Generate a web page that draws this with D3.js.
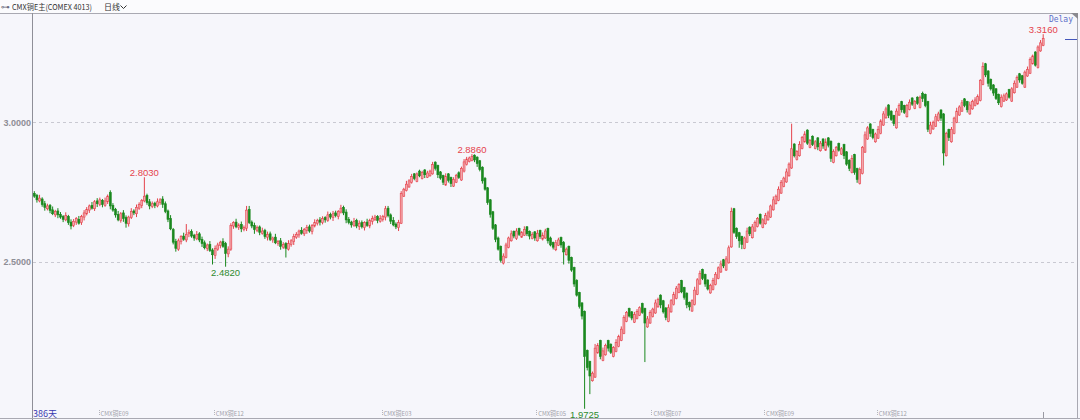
<!DOCTYPE html>
<html><head><meta charset="utf-8">
<script src="https://cdn.jsdelivr.net/npm/d3@7"></script>
<style>html,body{margin:0;padding:0;background:#f6f6fb;overflow:hidden}svg{display:block}</style>
</head><body><svg id="c" width="1080" height="420"></svg>
<script>
// ---- data (COMEX copper continuous, daily OHLC) ----
const opens=[2.745,2.738,2.718,2.725,2.708,2.690,2.702,2.686,2.668,2.682,
2.670,2.662,2.650,2.662,2.642,2.630,2.642,2.652,2.640,2.660,
2.672,2.685,2.702,2.690,2.718,2.705,2.720,2.702,2.715,2.748,
2.702,2.688,2.670,2.648,2.675,2.658,2.636,2.658,2.682,2.672,
2.692,2.702,2.718,2.738,2.715,2.698,2.710,2.700,2.712,2.725,
2.708,2.682,2.655,2.615,2.572,2.545,2.572,2.592,2.578,2.600,
2.608,2.595,2.582,2.600,2.580,2.568,2.548,2.562,2.542,2.522,
2.545,2.558,2.572,2.565,2.528,2.545,2.628,2.642,2.622,2.634,
2.615,2.620,2.688,2.642,2.630,2.612,2.625,2.602,2.612,2.588,
2.600,2.578,2.588,2.565,2.575,2.552,2.565,2.545,2.562,2.572,
2.588,2.596,2.612,2.600,2.612,2.625,2.608,2.628,2.638,2.650,
2.640,2.658,2.648,2.670,2.658,2.675,2.662,2.678,2.695,2.678,
2.652,2.642,2.630,2.648,2.626,2.640,2.622,2.642,2.628,2.645,
2.652,2.662,2.645,2.652,2.660,2.692,2.668,2.648,2.635,2.622,
2.638,2.735,2.755,2.768,2.785,2.815,2.788,2.825,2.798,2.829,
2.803,2.808,2.815,2.857,2.845,2.822,2.809,2.775,2.815,2.802,
2.771,2.785,2.819,2.793,2.825,2.848,2.859,2.863,2.882,2.875,
2.862,2.839,2.799,2.765,2.722,2.679,2.632,2.585,2.555,2.495,
2.515,2.551,2.575,2.609,2.583,2.619,2.588,2.595,2.625,2.609,
2.583,2.607,2.575,2.612,2.581,2.585,2.619,2.585,2.569,2.543,
2.559,2.587,2.569,2.525,2.555,2.515,2.479,2.432,2.389,2.352,
2.322,2.182,2.142,2.073,2.086,2.173,2.217,2.146,2.166,2.217,
2.204,2.160,2.178,2.196,2.218,2.243,2.286,2.332,2.320,2.283,
2.296,2.308,2.350,2.332,2.266,2.280,2.303,2.316,2.338,2.380,
2.360,2.334,2.286,2.320,2.346,2.368,2.390,2.432,2.407,2.387,
2.354,2.323,2.346,2.383,2.420,2.472,2.454,2.434,2.388,2.400,
2.418,2.440,2.463,2.507,2.470,2.496,2.553,2.690,2.620,2.604,
2.590,2.548,2.570,2.624,2.586,2.610,2.626,2.670,2.623,2.636,
2.650,2.660,2.686,2.708,2.720,2.746,2.770,2.786,2.808,2.836,
2.922,2.866,2.880,2.906,2.930,2.972,2.910,2.950,2.906,2.944,
2.898,2.940,2.900,2.944,2.932,2.856,2.880,2.924,2.886,2.920,
2.894,2.864,2.820,2.884,2.834,2.780,2.816,2.893,2.940,2.994,
2.974,2.930,2.943,2.960,2.990,3.016,3.062,3.040,3.024,2.980,
3.026,3.074,3.060,3.020,3.046,3.087,3.050,3.090,3.053,3.104,
3.100,3.074,2.960,2.976,2.986,3.006,3.044,3.030,2.880,2.974,
2.930,2.960,3.000,3.026,3.040,3.084,3.074,3.030,3.048,3.060,
3.066,3.078,3.136,3.210,3.184,3.154,3.134,3.120,3.100,3.056,
3.076,3.080,3.117,3.076,3.106,3.126,3.174,3.167,3.126,3.166,
3.176,3.210,3.252,3.196,3.256,3.276];

const highs=[2.753,2.743,2.740,2.731,2.718,2.708,2.707,2.698,2.686,2.692,
2.678,2.667,2.677,2.668,2.652,2.653,2.660,2.664,2.668,2.685,
2.696,2.705,2.714,2.721,2.728,2.730,2.725,2.730,2.741,2.756,
2.710,2.693,2.682,2.678,2.685,2.666,2.665,2.692,2.688,2.705,
2.713,2.725,2.803,2.744,2.725,2.716,2.715,2.727,2.728,2.735,
2.716,2.687,2.667,2.621,2.582,2.583,2.595,2.604,2.635,2.615,
2.616,2.600,2.610,2.606,2.590,2.576,2.565,2.574,2.548,2.558,
2.568,2.575,2.584,2.571,2.555,2.638,2.645,2.654,2.638,2.644,
2.630,2.700,2.700,2.648,2.640,2.630,2.630,2.622,2.618,2.608,
2.608,2.590,2.600,2.578,2.585,2.570,2.570,2.577,2.581,2.600,
2.606,2.615,2.624,2.621,2.632,2.633,2.635,2.652,2.654,2.660,
2.663,2.663,2.680,2.676,2.682,2.683,2.685,2.704,2.701,2.688,
2.660,2.647,2.657,2.654,2.648,2.648,2.645,2.654,2.654,2.665,
2.668,2.667,2.667,2.668,2.700,2.700,2.673,2.660,2.641,2.650,
2.753,2.765,2.790,2.796,2.815,2.818,2.820,2.830,2.826,2.832,
2.826,2.830,2.858,2.860,2.848,2.825,2.812,2.817,2.818,2.805,
2.803,2.815,2.824,2.841,2.868,2.876,2.877,2.886,2.885,2.878,
2.865,2.842,2.804,2.768,2.725,2.682,2.635,2.590,2.558,2.530,
2.568,2.590,2.612,2.612,2.620,2.622,2.610,2.627,2.628,2.612,
2.606,2.610,2.614,2.615,2.605,2.618,2.622,2.590,2.572,2.578,
2.586,2.590,2.574,2.551,2.558,2.518,2.482,2.437,2.392,2.355,
2.325,2.185,2.145,2.106,2.205,2.208,2.220,2.192,2.206,2.220,
2.207,2.197,2.222,2.238,2.268,2.308,2.323,2.335,2.323,2.320,
2.330,2.340,2.353,2.335,2.305,2.326,2.335,2.364,2.371,2.383,
2.363,2.337,2.347,2.366,2.392,2.413,2.423,2.435,2.410,2.390,
2.357,2.365,2.410,2.441,2.468,2.475,2.457,2.437,2.421,2.442,
2.463,2.483,2.504,2.510,2.520,2.558,2.694,2.693,2.623,2.607,
2.593,2.590,2.622,2.627,2.635,2.648,2.660,2.673,2.656,2.675,
2.683,2.705,2.734,2.741,2.770,2.793,2.805,2.834,2.856,2.995,
2.925,2.900,2.932,2.951,2.968,2.975,2.940,2.953,2.936,2.947,
2.933,2.943,2.942,2.947,2.935,2.903,2.915,2.927,2.911,2.923,
2.897,2.867,2.882,2.887,2.837,2.838,2.915,2.967,2.986,2.997,
2.977,2.963,2.987,3.011,3.040,3.056,3.065,3.043,3.027,3.050,
3.068,3.077,3.063,3.066,3.082,3.090,3.080,3.093,3.096,3.110,
3.103,3.077,3.002,3.006,3.030,3.038,3.047,3.033,2.966,2.977,
2.983,3.020,3.052,3.061,3.080,3.087,3.077,3.074,3.081,3.090,
3.100,3.155,3.215,3.213,3.187,3.157,3.137,3.123,3.103,3.100,
3.103,3.107,3.120,3.126,3.150,3.168,3.177,3.170,3.186,3.200,
3.233,3.243,3.255,3.276,3.295,3.316];

const lows=[2.729,2.712,2.713,2.697,2.683,2.684,2.674,2.667,2.660,2.656,
2.654,2.642,2.645,2.632,2.616,2.624,2.632,2.633,2.632,2.648,
2.666,2.675,2.687,2.682,2.696,2.699,2.695,2.697,2.707,2.688,
2.679,2.658,2.645,2.640,2.643,2.622,2.626,2.653,2.667,2.660,
2.686,2.692,2.713,2.704,2.688,2.692,2.692,2.695,2.704,2.693,
2.674,2.642,2.613,2.562,2.536,2.539,2.562,2.575,2.570,2.588,
2.586,2.575,2.577,2.570,2.553,2.544,2.538,2.535,2.490,2.510,
2.539,2.548,2.550,2.482,2.516,2.539,2.618,2.620,2.614,2.606,
2.609,2.610,2.635,2.620,2.600,2.606,2.595,2.597,2.582,2.576,
2.574,2.568,2.563,2.557,2.543,2.546,2.515,2.540,2.554,2.560,
2.582,2.586,2.597,2.592,2.600,2.604,2.598,2.623,2.630,2.630,
2.634,2.640,2.643,2.652,2.646,2.659,2.652,2.673,2.667,2.638,
2.634,2.622,2.625,2.620,2.614,2.619,2.612,2.625,2.620,2.633,
2.646,2.638,2.640,2.644,2.648,2.659,2.635,2.627,2.617,2.610,
2.635,2.732,2.752,2.765,2.780,2.792,2.785,2.803,2.795,2.800,
2.800,2.805,2.812,2.827,2.800,2.794,2.775,2.772,2.784,2.768,
2.768,2.782,2.797,2.790,2.820,2.845,2.856,2.860,2.857,2.840,
2.824,2.780,2.755,2.704,2.658,2.614,2.570,2.540,2.497,2.490,
2.512,2.548,2.572,2.584,2.578,2.592,2.585,2.592,2.592,2.580,
2.580,2.575,2.572,2.582,2.576,2.582,2.565,2.555,2.544,2.538,
2.556,2.550,2.490,2.522,2.493,2.464,2.410,2.375,2.332,2.293,
1.9725,2.110,2.025,2.070,2.083,2.170,2.150,2.143,2.163,2.178,
2.169,2.157,2.175,2.193,2.215,2.240,2.283,2.300,2.290,2.280,
2.293,2.305,2.313,2.140,2.263,2.277,2.300,2.313,2.335,2.333,
2.314,2.290,2.283,2.317,2.343,2.365,2.387,2.387,2.364,2.333,
2.325,2.320,2.343,2.380,2.417,2.434,2.410,2.397,2.385,2.397,
2.415,2.437,2.460,2.477,2.467,2.493,2.550,2.600,2.582,2.550,
2.545,2.545,2.567,2.592,2.583,2.607,2.623,2.633,2.620,2.633,
2.647,2.657,2.683,2.705,2.717,2.743,2.767,2.783,2.805,2.833,
2.874,2.863,2.877,2.903,2.927,2.919,2.907,2.915,2.903,2.900,
2.895,2.905,2.897,2.910,2.858,2.853,2.877,2.895,2.883,2.868,
2.844,2.825,2.817,2.812,2.783,2.777,2.813,2.890,2.937,2.948,
2.939,2.927,2.940,2.957,2.987,3.013,3.015,3.005,2.987,2.977,
3.023,3.035,3.030,3.017,3.043,3.059,3.047,3.063,3.050,3.073,
3.054,2.965,2.957,2.973,2.983,3.003,3.005,2.845,2.877,2.933,
2.927,2.957,2.997,3.023,3.037,3.054,3.035,3.027,3.045,3.057,
3.063,3.075,3.133,3.162,3.128,3.114,3.095,3.080,3.062,3.053,
3.073,3.077,3.085,3.073,3.103,3.123,3.142,3.135,3.123,3.163,
3.173,3.207,3.200,3.193,3.253,3.273];

const closes=[2.735,2.722,2.728,2.705,2.695,2.700,2.684,2.672,2.680,2.668,
2.660,2.652,2.665,2.640,2.628,2.645,2.655,2.638,2.662,2.675,
2.688,2.700,2.692,2.715,2.708,2.722,2.705,2.718,2.735,2.700,
2.685,2.668,2.650,2.672,2.655,2.638,2.660,2.680,2.675,2.695,
2.705,2.720,2.735,2.712,2.700,2.708,2.702,2.715,2.722,2.705,
2.680,2.652,2.618,2.570,2.548,2.575,2.590,2.580,2.598,2.605,
2.592,2.585,2.598,2.578,2.565,2.550,2.560,2.540,2.525,2.548,
2.560,2.570,2.555,2.530,2.545,2.630,2.640,2.625,2.632,2.618,
2.622,2.685,2.640,2.628,2.615,2.622,2.605,2.610,2.590,2.598,
2.580,2.585,2.568,2.572,2.555,2.562,2.548,2.565,2.575,2.590,
2.598,2.610,2.602,2.615,2.622,2.610,2.630,2.640,2.648,2.642,
2.655,2.650,2.668,2.660,2.672,2.665,2.680,2.692,2.675,2.650,
2.640,2.632,2.645,2.628,2.638,2.625,2.640,2.630,2.648,2.655,
2.660,2.648,2.655,2.662,2.690,2.665,2.645,2.632,2.625,2.640,
2.745,2.760,2.778,2.790,2.805,2.798,2.815,2.808,2.820,2.812,
2.818,2.825,2.848,2.835,2.812,2.800,2.785,2.805,2.792,2.780,
2.795,2.810,2.802,2.835,2.858,2.868,2.872,2.878,2.865,2.852,
2.830,2.790,2.760,2.712,2.670,2.620,2.580,2.545,2.505,2.520,
2.560,2.585,2.600,2.592,2.610,2.598,2.605,2.615,2.600,2.592,
2.598,2.585,2.602,2.590,2.595,2.610,2.575,2.560,2.552,2.568,
2.578,2.560,2.535,2.545,2.505,2.470,2.420,2.380,2.340,2.305,
2.160,2.120,2.090,2.100,2.190,2.200,2.160,2.180,2.200,2.190,
2.175,2.192,2.210,2.232,2.258,2.300,2.318,2.305,2.298,2.310,
2.322,2.335,2.318,2.280,2.295,2.318,2.330,2.352,2.365,2.345,
2.320,2.300,2.335,2.360,2.382,2.405,2.418,2.392,2.372,2.345,
2.338,2.360,2.398,2.435,2.458,2.440,2.420,2.402,2.415,2.432,
2.455,2.478,2.492,2.485,2.510,2.550,2.680,2.605,2.590,2.575,
2.562,2.585,2.610,2.600,2.625,2.640,2.655,2.638,2.650,2.665,
2.675,2.700,2.722,2.735,2.760,2.785,2.800,2.822,2.850,2.905,
2.880,2.895,2.920,2.945,2.958,2.925,2.935,2.920,2.930,2.912,
2.925,2.915,2.930,2.918,2.870,2.895,2.910,2.900,2.905,2.880,
2.850,2.835,2.870,2.820,2.795,2.830,2.910,2.955,2.980,2.960,
2.945,2.958,2.975,3.005,3.030,3.048,3.025,3.010,2.995,3.040,
3.060,3.045,3.035,3.060,3.072,3.065,3.075,3.068,3.090,3.085,
3.060,2.975,2.990,3.000,3.020,3.030,3.015,2.890,2.960,2.945,
2.975,3.015,3.040,3.055,3.070,3.060,3.045,3.062,3.075,3.080,
3.092,3.150,3.200,3.170,3.140,3.120,3.105,3.085,3.070,3.090,
3.095,3.102,3.090,3.120,3.140,3.160,3.152,3.140,3.180,3.190,
3.225,3.238,3.205,3.270,3.285,3.300];

const yTickValues=[2.5,3.0];
const xTickLabels=["CMX铜E09","CMX铜E12","CMX铜E03","CMX铜E05","CMX铜E07","CMX铜E09","CMX铜E12"];
const xTickIndex=[25,69,133,192,236,279,322];
const markerIndex=[42,73,167,210,385];
const markerType=["high","low","high","low","high"];
const titleText="CMX铜E主(COMEX 4013)";
const periodText="日线";
const dayCountText="386天";
const delayText="Delay";

// ---- drawing ----
const W=1080,H=420;
const svg=d3.select("#c");
const n=closes.length;
const x=d3.scaleBand().domain(d3.range(n)).range([33,1044.5]);
const y=d3.scaleLinear().domain([2.5,3.0]).range([261.7,122.3]);
const cx=i=>x(i)+x.bandwidth()/2;
const bw=x.bandwidth()*0.74;
const UP_S="#e5434c",UP_F="#f3a6ab",DN="#1a881e";

// backgrounds
svg.append("rect").attr("width",W).attr("height",H).attr("fill","#f6f6fb");
svg.append("rect").attr("width",W).attr("height",13).attr("fill","#fbfbfd");

// grid
svg.append("g").selectAll("line").data(yTickValues).join("line")
  .attr("x1",33).attr("x2",1077).attr("y1",d=>Math.round(y(d))+0.5).attr("y2",d=>Math.round(y(d))+0.5)
  .attr("stroke","#c9c9d2").attr("stroke-dasharray","3,3").attr("stroke-width",1);

// y labels
svg.append("g").selectAll("text").data(yTickValues).join("text")
  .attr("x",31).attr("y",d=>y(d)+3.2).attr("text-anchor","end")
  .attr("font-family","Liberation Sans, Arial, sans-serif").attr("font-size",9).attr("font-weight","bold")
  .attr("fill","#8e8e96").text(d=>d.toFixed(4));

// candles
const idx=d3.range(n);
const gC=svg.append("g");
gC.selectAll("line").data(idx).join("line")
  .attr("x1",cx).attr("x2",cx)
  .attr("y1",i=>y(Math.max(highs[i],opens[i],closes[i])))
  .attr("y2",i=>y(Math.min(lows[i],opens[i],closes[i])))
  .attr("stroke",i=>closes[i]>=opens[i]?UP_S:DN).attr("stroke-width",1);
gC.selectAll("rect").data(idx).join("rect")
  .attr("x",i=>cx(i)-bw/2).attr("width",bw)
  .attr("y",i=>y(Math.max(opens[i],closes[i])))
  .attr("height",i=>Math.max(1,Math.abs(y(opens[i])-y(closes[i]))))
  .attr("fill",i=>closes[i]>=opens[i]?UP_F:DN)
  .attr("stroke",i=>closes[i]>=opens[i]?UP_S:DN).attr("stroke-width",0.6);

// frame lines
svg.append("line").attr("x1",0).attr("x2",1078).attr("y1",13.5).attr("y2",13.5).attr("stroke","#a9a9b2");
svg.append("line").attr("x1",32.5).attr("x2",32.5).attr("y1",13).attr("y2",420).attr("stroke","#8f8f98");
svg.append("line").attr("x1",1077.5).attr("x2",1077.5).attr("y1",13).attr("y2",419).attr("stroke","#a9a9b2");
svg.append("line").attr("x1",0).attr("x2",1080).attr("y1",418.5).attr("y2",418.5).attr("stroke","#a9a9b2");
svg.append("path").attr("d","M1071,13 L1078,13 L1078,19 Z").attr("fill","#8a8a90");

// x tick labels
const gX=svg.append("g");
gX.selectAll("line").data(xTickIndex).join("line")
  .attr("x1",i=>Math.round(x(i))+0.5).attr("x2",i=>Math.round(x(i))+0.5).attr("y1",410).attr("y2",416)
  .attr("stroke","#b4b4bc").attr("stroke-dasharray","1,1");
gX.selectAll("text").data(xTickIndex).join("text")
  .attr("x",i=>x(i)+2).attr("y",416)
  .attr("font-family","Noto Sans CJK SC, sans-serif").attr("font-size",6.5)
  .attr("textLength",28).attr("lengthAdjust","spacingAndGlyphs")
  .attr("fill","#a2a2aa").text((i,k)=>xTickLabels[k]);
// last bar tick
svg.append("line").attr("x1",Math.round(cx(n-1))+0.5).attr("x2",Math.round(cx(n-1))+0.5)
  .attr("y1",412).attr("y2",418).attr("stroke","#9a9aa2");

// extreme markers
svg.append("g").selectAll("text").data(markerIndex).join("text")
  .attr("x",i=>cx(i)).attr("text-anchor","middle")
  .attr("y",(i,k)=>markerType[k]==="high"?y(highs[i])-1.5:y(lows[i])+9.5)
  .attr("font-family","Liberation Sans, Arial, sans-serif").attr("font-size",9.5)
  .attr("fill",(i,k)=>markerType[k]==="high"?"#e5434c":"#2e8b2e")
  .text((i,k)=>(markerType[k]==="high"?highs[i]:lows[i]).toFixed(4));

// day count
svg.append("text").attr("x",33).attr("y",416.5).attr("font-family","Noto Sans CJK SC, sans-serif")
  .attr("font-size",9).attr("fill","#3a3ab0").text(dayCountText);

// header
svg.append("text").attr("x",1).attr("y",10).attr("font-family","DejaVu Sans, sans-serif")
  .attr("font-size",9).attr("fill","#6a6a80").text("⊶");
svg.append("text").attr("x",12).attr("y",10).attr("font-family","Noto Sans CJK SC, sans-serif")
  .attr("font-size",8).attr("textLength",80).attr("lengthAdjust","spacingAndGlyphs")
  .attr("fill","#333").text(titleText);
svg.append("text").attr("x",104).attr("y",10).attr("font-family","Noto Sans CJK SC, sans-serif")
  .attr("font-size",8).attr("fill","#333").text(periodText);
svg.append("path").attr("d","M120.5,5.5 L123.5,8.5 L126.5,5.5").attr("fill","none").attr("stroke","#333").attr("stroke-width",1);

// last price marker + Delay
svg.append("line").attr("x1",1065).attr("x2",1077).attr("y1",Math.round(y(closes[n-1]))+0.5).attr("y2",Math.round(y(closes[n-1]))+0.5)
  .attr("stroke","#4457bb").attr("stroke-width",1);
svg.append("text").attr("x",1073).attr("y",22).attr("text-anchor","end")
  .attr("font-family","DejaVu Sans Mono, monospace").attr("font-size",8).attr("fill","#5c6fc8").text(delayText);
</script></body></html>
